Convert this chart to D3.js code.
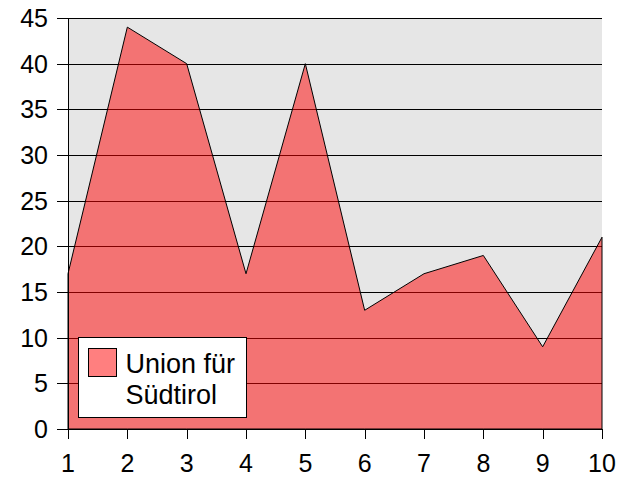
<!DOCTYPE html>
<html>
<head>
<meta charset="utf-8">
<script src="https://cdn.jsdelivr.net/npm/d3@7"></script>
<style>
body{margin:0;background:#fff;}
text{font-family:"Liberation Sans",Arial,sans-serif;}
</style>
</head>
<body>
<div class="canvas"></div>
<script>
// data
var xVals = [1,2,3,4,5,6,7,8,9,10];
var seriesVals = [17,44,40,17,40,13,17,19,9,21];
var yTicks = [0,5,10,15,20,25,30,35,40,45];
var seriesName = ['Union für','Südtirol'];

var margin = {t:18,r:18,b:50,l:68};
var W = 620, H = 479;
var width = W-margin.l-margin.r,
    height = H-margin.t-margin.b;

var svg = d3.select('.canvas')
    .append('svg')
    .attr('width',W)
    .attr('height',H);
var plot = svg.append('g')
    .attr('transform','translate('+margin.l+','+margin.t+')');

var x = d3.scaleLinear().domain([1,10]).range([0,width]);
var y = d3.scaleLinear().domain([0,45]).range([height,0]);

//background
plot.append('rect')
    .attr('width',width)
    .attr('height',height)
    .style('fill','#e6e6e6');

//gridlines
plot.selectAll('.grid')
    .data(yTicks)
    .enter()
    .append('line')
    .attr('x1',-11)
    .attr('x2',width)
    .attr('y1',function(d){return Math.round(y(d))+0.5})
    .attr('y2',function(d){return Math.round(y(d))+0.5})
    .style('stroke','#000')
    .style('stroke-width',1);

//y labels
plot.selectAll('.ylab')
    .data(yTicks)
    .enter()
    .append('text')
    .attr('x',-20)
    .attr('y',function(d){return y(d)+9})
    .attr('text-anchor','end')
    .style('font-size','25px')
    .text(function(d){return d});

//area
var area = d3.area()
    .x(function(d,i){return x(xVals[i])})
    .y0(height)
    .y1(function(d){return y(d)});
plot.append('path')
    .datum(seriesVals)
    .attr('d',function(d){return area(d)+'Z'})
    .style('fill','rgba(255,0,0,0.5)')
    .style('stroke','#000')
    .style('stroke-width',1);

//y axis line
plot.append('line')
    .attr('x1',0.5).attr('x2',0.5)
    .attr('y1',0).attr('y2',height)
    .style('stroke','#000');

//x ticks + labels
plot.selectAll('.xtick')
    .data(xVals)
    .enter()
    .append('line')
    .attr('x1',function(d){return Math.round(x(d))+0.5})
    .attr('x2',function(d){return Math.round(x(d))+0.5})
    .attr('y1',height)
    .attr('y2',height+10)
    .style('stroke','#000');
plot.selectAll('.xlab')
    .data(xVals)
    .enter()
    .append('text')
    .attr('x',function(d){return x(d)})
    .attr('y',height+43)
    .attr('text-anchor','middle')
    .style('font-size','25px')
    .text(function(d){return d});

//legend
var leg = svg.append('g').attr('transform','translate(78.5,337.5)');
leg.append('rect')
    .attr('width',168).attr('height',80)
    .style('fill','#fff').style('stroke','#000');
leg.append('rect')
    .attr('x',10).attr('y',11)
    .attr('width',28).attr('height',28)
    .style('fill','rgba(255,0,0,0.5)').style('stroke','#000');
leg.selectAll('.lt')
    .data(seriesName)
    .enter()
    .append('text')
    .attr('x',47)
    .attr('y',function(d,i){return 35+i*31})
    .style('font-size','27px')
    .text(function(d){return d});
</script>
</body>
</html>
